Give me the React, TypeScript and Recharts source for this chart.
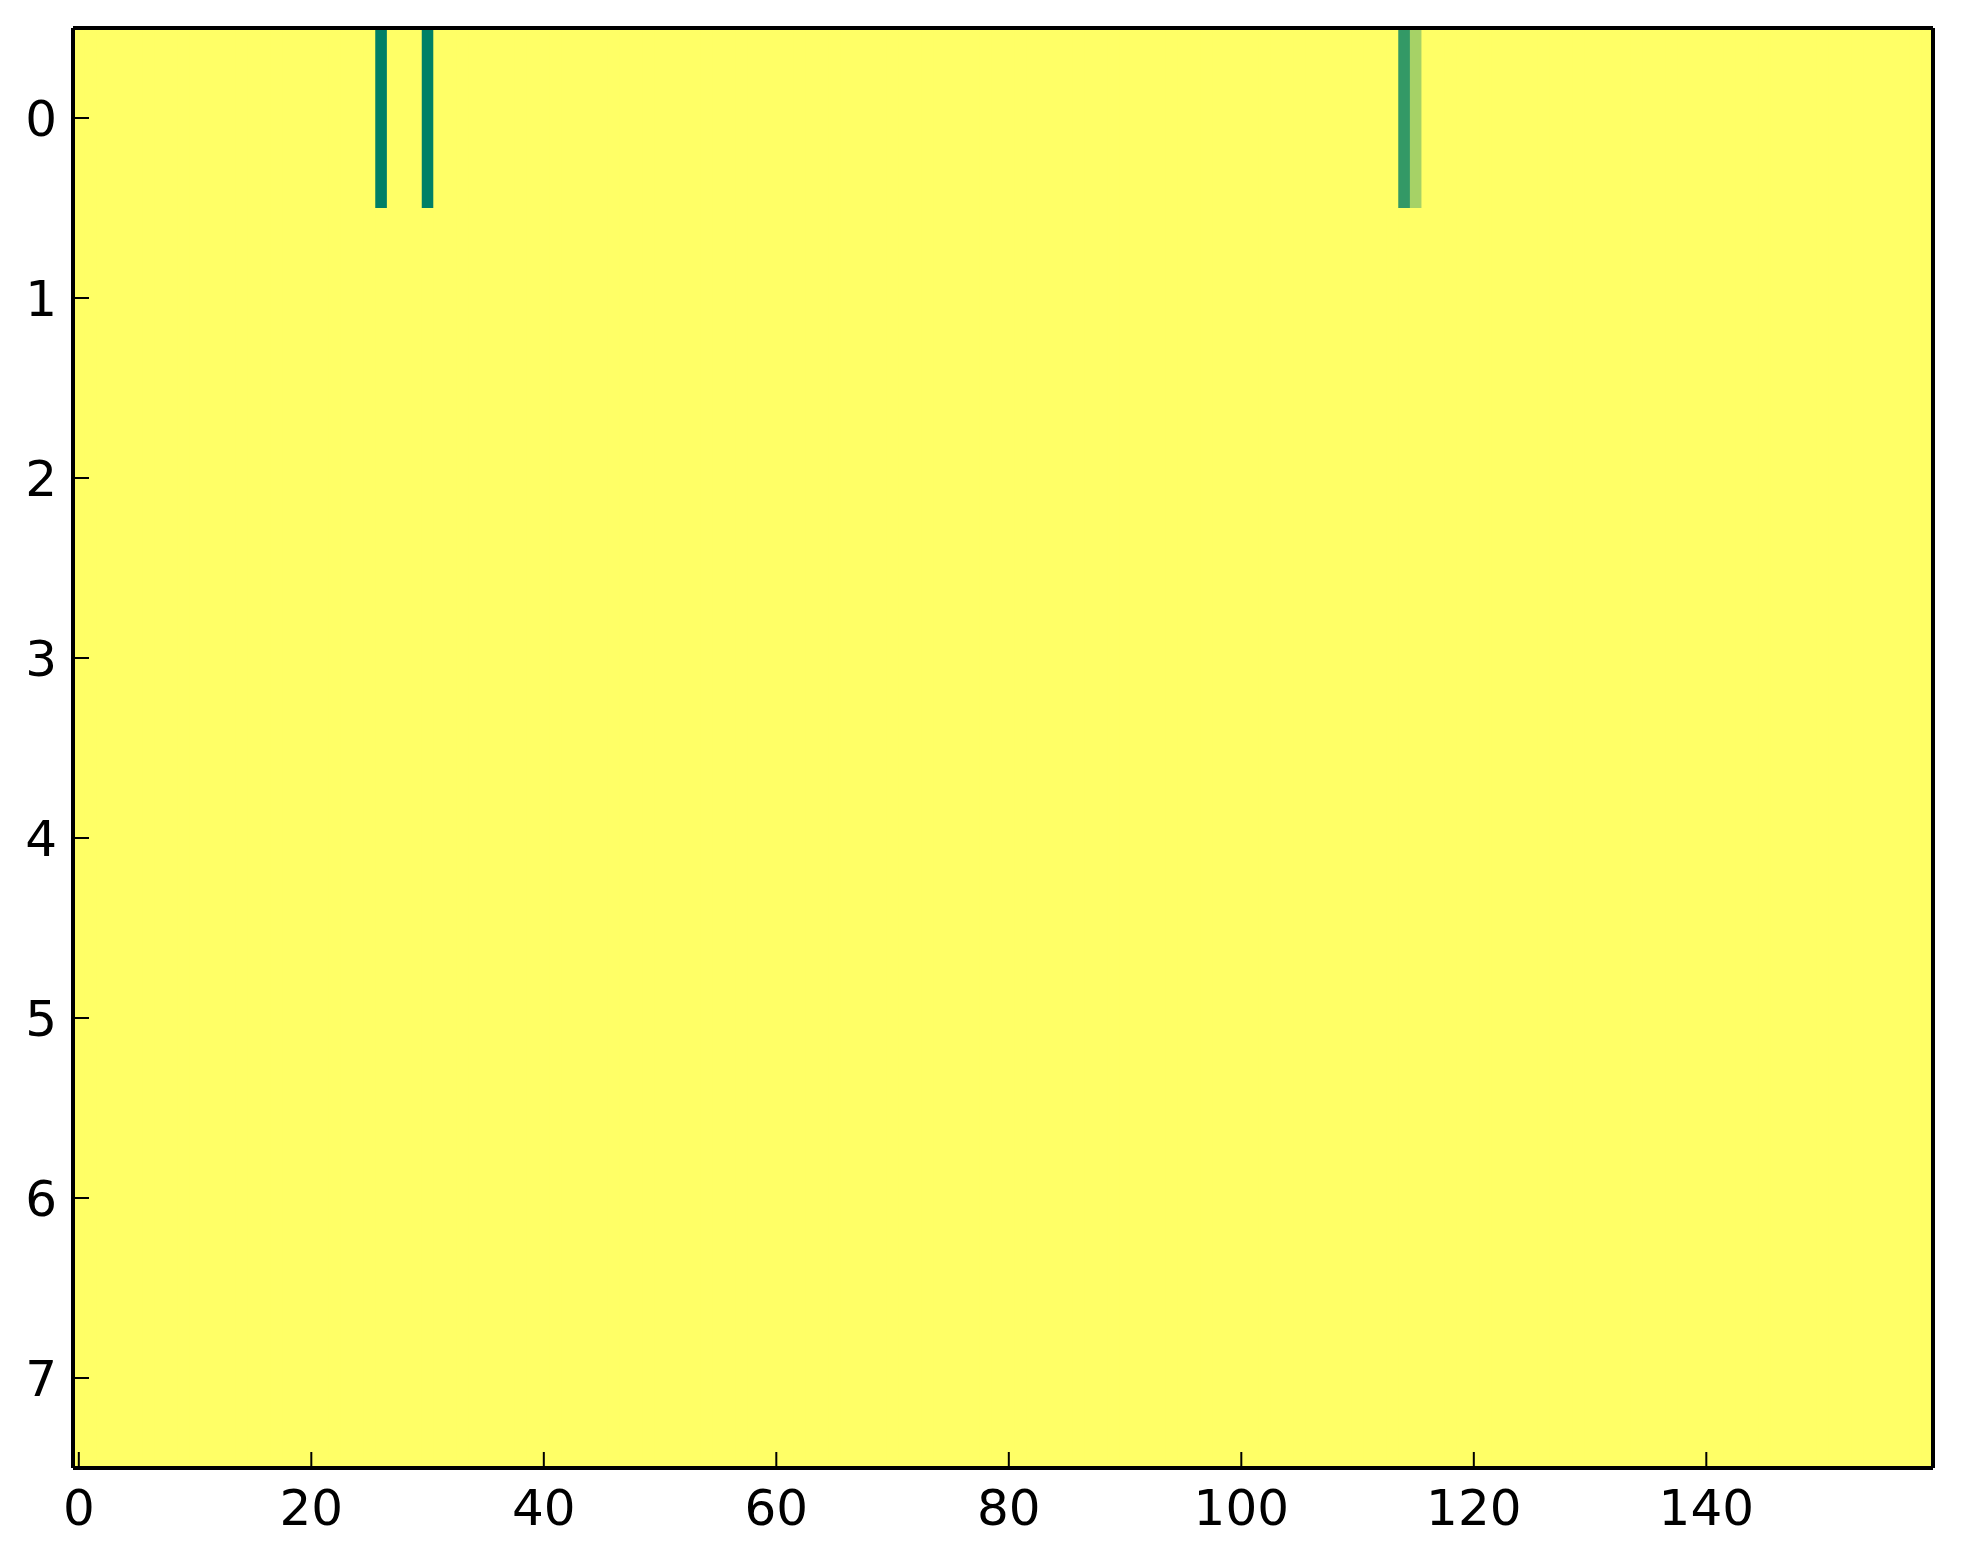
import React from 'react';
import { BarChart, Bar, XAxis, YAxis, Cell, CartesianGrid } from 'recharts';

// 8 x 160 image, every cell at the colormap's top except a few in row 0
const COLUMNS = Array.from({ length: 160 }, (_, i) => i);
const ROWS = [0, 1, 2, 3, 4, 5, 6, 7];
const BASE_VALUE = 1;
const ROW0_LOW: [number, number][] = [
  [26, 0],
  [30, 0],
  [114, 0.2],
  [115, 0.65],
];

const X_TICKS = [0, 20, 40, 60, 80, 100, 120, 140];
const Y_TICKS = [0.5, 1.5, 2.5, 3.5, 4.5, 5.5, 6.5, 7.5];

// matplotlib "summer": (v, 0.5 + v/2, 0.4)
const summer = (v: number) => {
  const r = Math.round(255 * v);
  const g = Math.round(255 * (0.5 + v / 2));
  const b = Math.round(255 * 0.4);
  return `rgb(${r},${g},${b})`;
};

const valueAt = (row: number, col: number) => {
  if (row === 0) {
    const hit = ROW0_LOW.find(([c]) => c === col);
    if (hit) return hit[1];
  }
  return BASE_VALUE;
};

const data = COLUMNS.map((col) => {
  const d: Record<string, number> = { col };
  ROWS.forEach((r) => {
    d[`r${r}`] = 1;
  });
  return d;
});

const tickStyle = { fill: '#000', fontSize: 50, fontFamily: 'DejaVu Sans' };
const axisLine = { stroke: '#000', strokeWidth: 4 };
const tickLine = { stroke: '#000', strokeWidth: 2 };

const App: React.FC = () => {
  return (
    <div style={{ position: 'absolute', left: 0, top: 0, background: '#fff' }}>
      <BarChart
        width={1963}
        height={1564}
        data={data}
        margin={{ top: 0, right: 0, bottom: 0, left: 0 }}
        barCategoryGap={0}
        barGap={0}
      >
        <CartesianGrid horizontal={false} vertical={false} fill="#ffff66" />
        <XAxis
          dataKey="col"
          type="category"
          ticks={X_TICKS}
          interval={0}
          height={96}
          tick={tickStyle}
          tickSize={-16}
          tickMargin={37}
          axisLine={axisLine}
          tickLine={tickLine}
        />
        <XAxis
          xAxisId="top"
          dataKey="col"
          type="category"
          orientation="top"
          ticks={X_TICKS}
          interval={0}
          height={28}
          tick={false}
          tickSize={-16}
          axisLine={axisLine}
          tickLine={tickLine}
        />
        <YAxis
          type="number"
          domain={[0, 8]}
          reversed
          ticks={Y_TICKS}
          interval={0}
          width={73}
          tickFormatter={(v: number) => String(Math.floor(v))}
          tick={tickStyle}
          tickSize={-16}
          tickMargin={32}
          axisLine={axisLine}
          tickLine={tickLine}
        />
        <YAxis
          yAxisId="right"
          type="number"
          orientation="right"
          domain={[0, 8]}
          reversed
          ticks={Y_TICKS}
          interval={0}
          width={30}
          tick={false}
          tickSize={-16}
          axisLine={axisLine}
          tickLine={tickLine}
        />
        {ROWS.map((r) => (
          <Bar key={r} dataKey={`r${r}`} stackId="img" isAnimationActive={false}>
            {COLUMNS.map((c) => (
              <Cell key={c} fill={summer(valueAt(r, c))} />
            ))}
          </Bar>
        ))}
      </BarChart>
    </div>
  );
};

export default App;
